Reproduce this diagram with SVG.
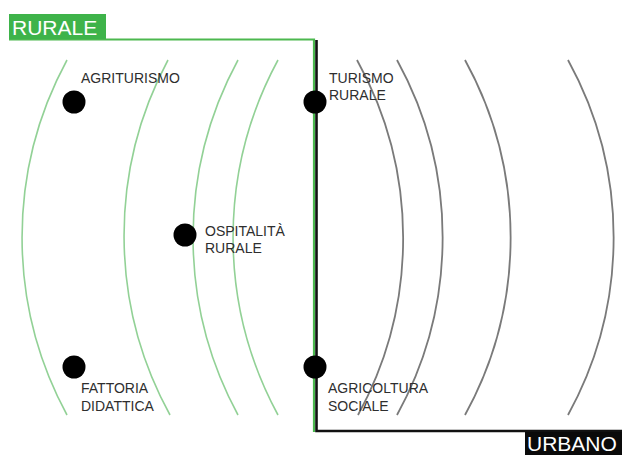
<svg xmlns="http://www.w3.org/2000/svg" width="622" height="455" viewBox="0 0 622 455">
<style>
.g{fill:none;stroke:#92d196;stroke-width:1.6}
.k{fill:none;stroke:#7a7a7a;stroke-width:1.8}
.lbl{font-family:"Liberation Sans",Arial,sans-serif;font-size:14px;fill:#2e2e2e}
.big{font-family:"Liberation Sans",Arial,sans-serif;font-size:21px;fill:#fff}
.dot{fill:#000}
</style>
<rect width="622" height="455" fill="#fff"/>
<g id="arcs">
<path class="g" d="M67,60 A373,373 0 0 0 67,415"/>
<path class="g" d="M168,60 A373,373 0 0 0 170,415"/>
<path class="g" d="M238,60 A373,373 0 0 0 238,415"/>
<path class="g" d="M278,60 A373,373 0 0 0 278,415"/>
<path class="k" d="M357,60 A368,368 0 0 1 358,415"/>
<path class="k" d="M397,60 A368,368 0 0 1 397,415"/>
<path class="k" d="M465,60 A368,368 0 0 1 465,415"/>
<path class="k" d="M568,60 A368,368 0 0 1 568,415"/>
</g>
<g id="connectors">
<path d="M9,39.5 H314 V432" fill="none" stroke="#4cb84f" stroke-width="2.2"/>
<path d="M316.5,40 V431 H622" fill="none" stroke="#111" stroke-width="2.6"/>
</g>
<g id="rurale">
<rect x="9" y="14" width="97" height="25" fill="#3eb34a"/>
<text class="big" x="12" y="35">RURALE</text>
</g>
<g id="urbano">
<rect x="525" y="432" width="97" height="23" fill="#0a0a0a"/>
<text class="big" x="527" y="451">URBANO</text>
</g>
<g id="agriturismo">
<circle class="dot" cx="74" cy="102" r="11.5"/>
<text class="lbl" x="81" y="83">AGRITURISMO</text>
</g>
<g id="turismo-rurale">
<circle class="dot" cx="315" cy="102" r="11.5"/>
<text class="lbl" x="329" y="83">TURISMO</text>
<text class="lbl" x="329" y="100">RURALE</text>
</g>
<g id="ospitalita-rurale">
<circle class="dot" cx="185" cy="235" r="11.5"/>
<text class="lbl" x="205" y="236">OSPITALITÀ</text>
<text class="lbl" x="205" y="253">RURALE</text>
</g>
<g id="fattoria-didattica">
<circle class="dot" cx="74" cy="367" r="11.5"/>
<text class="lbl" x="81" y="393">FATTORIA</text>
<text class="lbl" x="81" y="411">DIDATTICA</text>
</g>
<g id="agricoltura-sociale">
<circle class="dot" cx="315" cy="367" r="11.5"/>
<text class="lbl" x="328" y="393">AGRICOLTURA</text>
<text class="lbl" x="328" y="411">SOCIALE</text>
</g>
</svg>
